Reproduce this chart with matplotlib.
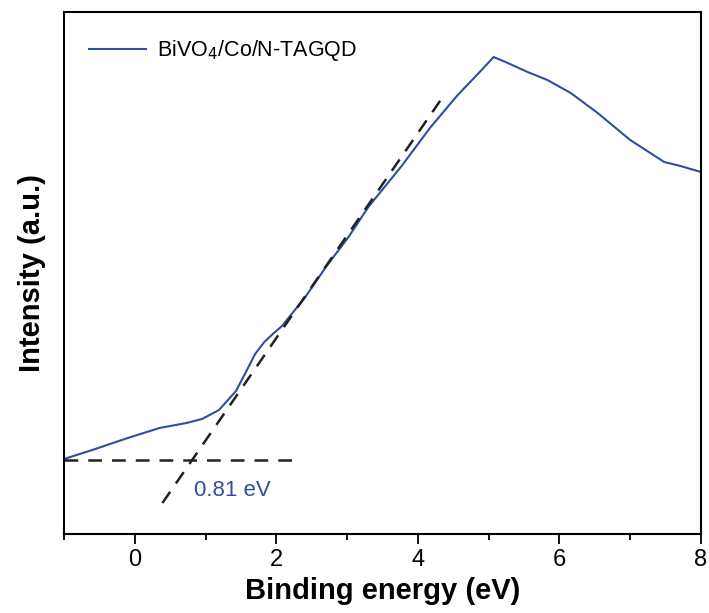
import matplotlib.pyplot as plt
from matplotlib import font_manager

plt.rcParams['font.family'] = ['Liberation Sans', 'DejaVu Sans']

# narrow face for the tick numbers if it is there
names = {f.name for f in font_manager.fontManager.ttflist}
tick_family = 'Liberation Sans Narrow' if 'Liberation Sans Narrow' in names else 'Liberation Sans'

# spectrum (intensity in arbitrary units)
energy = [-1.0, -0.6, -0.1, 0.35, 0.73, 0.95, 1.19, 1.43, 1.57, 1.70, 1.83, 1.95,
          2.08, 2.41, 2.70, 3.02, 3.30, 3.77, 4.17, 4.55, 4.90, 5.07, 5.27, 5.55,
          5.83, 6.16, 6.54, 7.0, 7.48, 7.71, 8.0]
intensity = [75, 84, 96, 106, 111, 115, 124, 143, 162, 180, 192, 200,
             208, 237, 267, 297, 327, 368, 406, 438, 464, 477, 471, 462,
             454, 441, 421, 394, 372, 368, 362]

# tangent fit and baseline
onset = 0.81
baseline = 74
slope = 102.5
tangent_x = [0.39, 4.33]
baseline_x = [-1.0, 2.25]

line_color = '#2f4ea0'

fig = plt.figure(figsize=(7.09, 6.13), dpi=100)
ax = fig.add_axes([0.0903, 0.1289, 0.8984, 0.8515])

ax.plot(energy, intensity, color=line_color, linewidth=1.5, label='BiVO$_4$/Co/N-TAGQD')

tangent_y = [baseline + slope * (x - onset) for x in tangent_x]
ax.plot(tangent_x, tangent_y, color='#222222', linestyle=(0, (5.5, 4)), linewidth=1.8)
ax.plot(baseline_x, [baseline, baseline], color='#222222', linestyle=(0, (5.5, 4)), linewidth=1.8)

ax.text(0.83, 43, f'{onset} eV', color=line_color, fontsize=16, ha='left', va='center')

ax.set_xlim(-1, 8)
ax.set_ylim(0, 522)
ax.set_xticks([0, 2, 4, 6, 8])
ax.set_xticks([-1, 1, 3, 5, 7], minor=True)
ax.set_yticks([])
ax.tick_params(axis='x', which='major', direction='out', length=7, width=1.3, labelsize=17, pad=4)
ax.tick_params(axis='x', which='minor', direction='out', length=4, width=1.3)
for lab in ax.get_xticklabels():
    lab.set_family(tick_family)
for spine in ax.spines.values():
    spine.set_linewidth(1.5)

ax.set_xlabel('Binding energy (eV)', fontsize=21, fontweight='bold', labelpad=4)
ax.set_ylabel('Intensity (a.u.)', fontsize=21, fontweight='bold', labelpad=13)

ax.legend(loc='upper left', bbox_to_anchor=(0.009, 0.987), frameon=False, fontsize=15.5,
          handlelength=2.65, handletextpad=0.5)

fig.savefig('out.png', dpi=100)
